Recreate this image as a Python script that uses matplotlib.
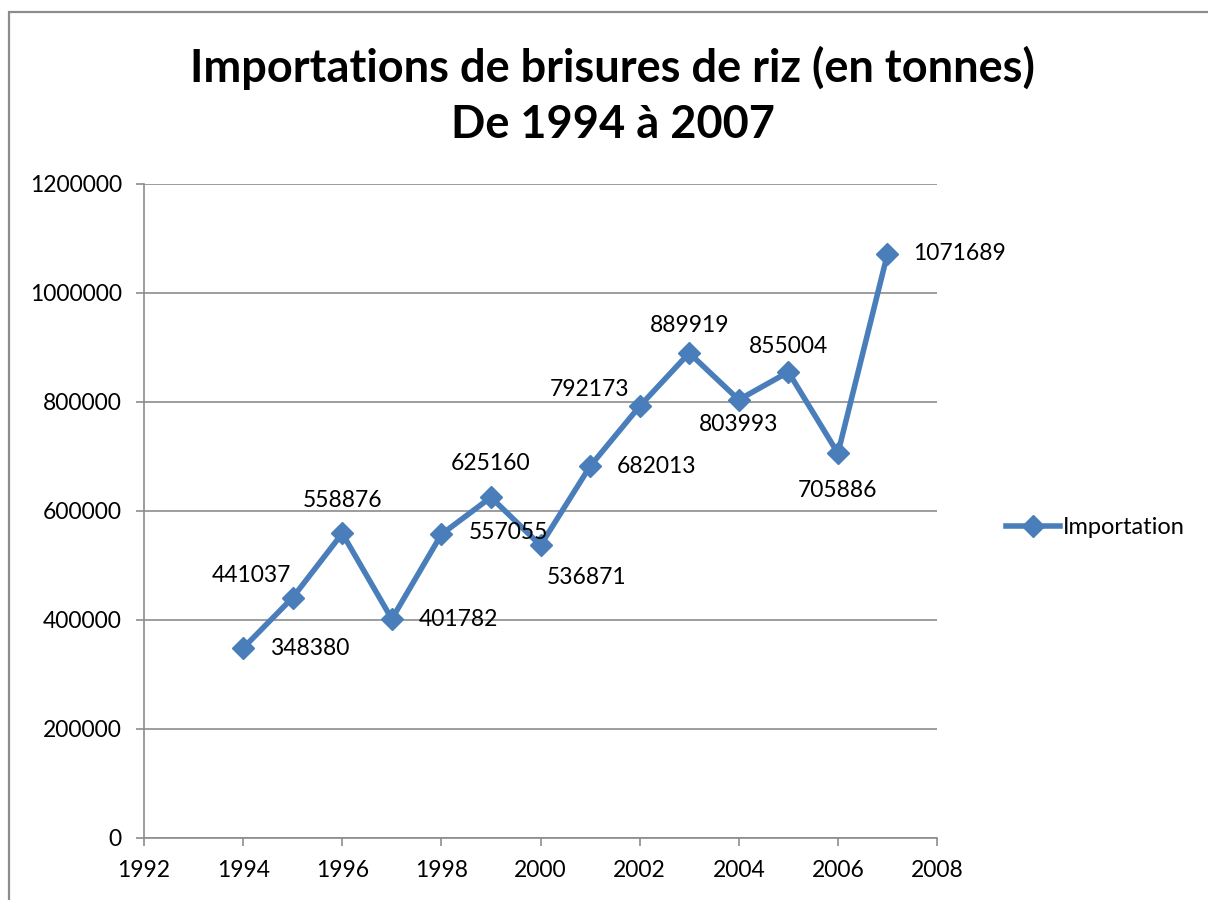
import matplotlib.pyplot as plt
from matplotlib.patches import Rectangle

plt.rcParams['font.family'] = ['Lato', 'DejaVu Sans']

# data
years = [1994, 1995, 1996, 1997, 1998, 1999, 2000, 2001, 2002, 2003, 2004, 2005, 2006, 2007]
imports = [348380, 441037, 558876, 401782, 557055, 625160, 536871, 682013,
           792173, 889919, 803993, 855004, 705886, 1071689]
# label placement per point (offset in points)
label_offsets = [(48, 0), (-30, 16), (0, 24), (48, 0), (48, 1), (0, 24), (33, -23), (48, 0),
                 (-36, 12), (0, 20), (0, -18), (0, 18), (0, -27), (52, 0)]

blue = '#4A7EBB'
grey = '#8C8C8C'

fig = plt.figure(figsize=(12.08, 9), dpi=100)
ax = fig.add_axes([0.1192, 0.0689, 0.6565, 0.7267])

ax.plot(years, imports, color=blue, lw=4, marker='D', ms=11, label='Importation')

for x, y, off in zip(years, imports, label_offsets):
    ax.annotate(str(y), (x, y), xytext=off, textcoords='offset points',
                ha='center', va='center', fontsize=16.5)

ax.set_xlim(1992, 2008)
ax.set_ylim(0, 1200000)
ax.set_xticks(range(1992, 2009, 2))
ax.set_yticks(range(0, 1200001, 200000))
ax.set_yticklabels([str(v) for v in range(0, 1200001, 200000)])
ax.yaxis.grid(True, color=grey, lw=1.2)
ax.set_axisbelow(True)
for s in ['top', 'right']:
    ax.spines[s].set_visible(False)
for s in ['left', 'bottom']:
    ax.spines[s].set_color(grey)
    ax.spines[s].set_linewidth(1.2)
ax.tick_params(axis='both', colors=grey, labelcolor='black', labelsize=16.5,
               length=6, width=1.2, direction='out')
ax.tick_params(axis='x', pad=10)
ax.tick_params(axis='y', pad=10)

ax.legend(loc='center left', bbox_to_anchor=(1.06, 0.475), frameon=False,
          fontsize=17, handlelength=2.3, handletextpad=0.1)

fig.text(0.507, 0.925, 'Importations de brisures de riz (en tonnes)',
         ha='center', va='center', fontsize=32.5, fontweight='bold')
fig.text(0.507, 0.861, 'De 1994 à 2007',
         ha='center', va='center', fontsize=32.5, fontweight='bold')

# outer chart frame
fig.patches.append(Rectangle((9 / 1208, -0.1), 1.2, 1 - 12 / 900 + 0.1,
                             transform=fig.transFigure, fill=False,
                             edgecolor=grey, lw=1.6))

fig.savefig('out.png', dpi=100)
